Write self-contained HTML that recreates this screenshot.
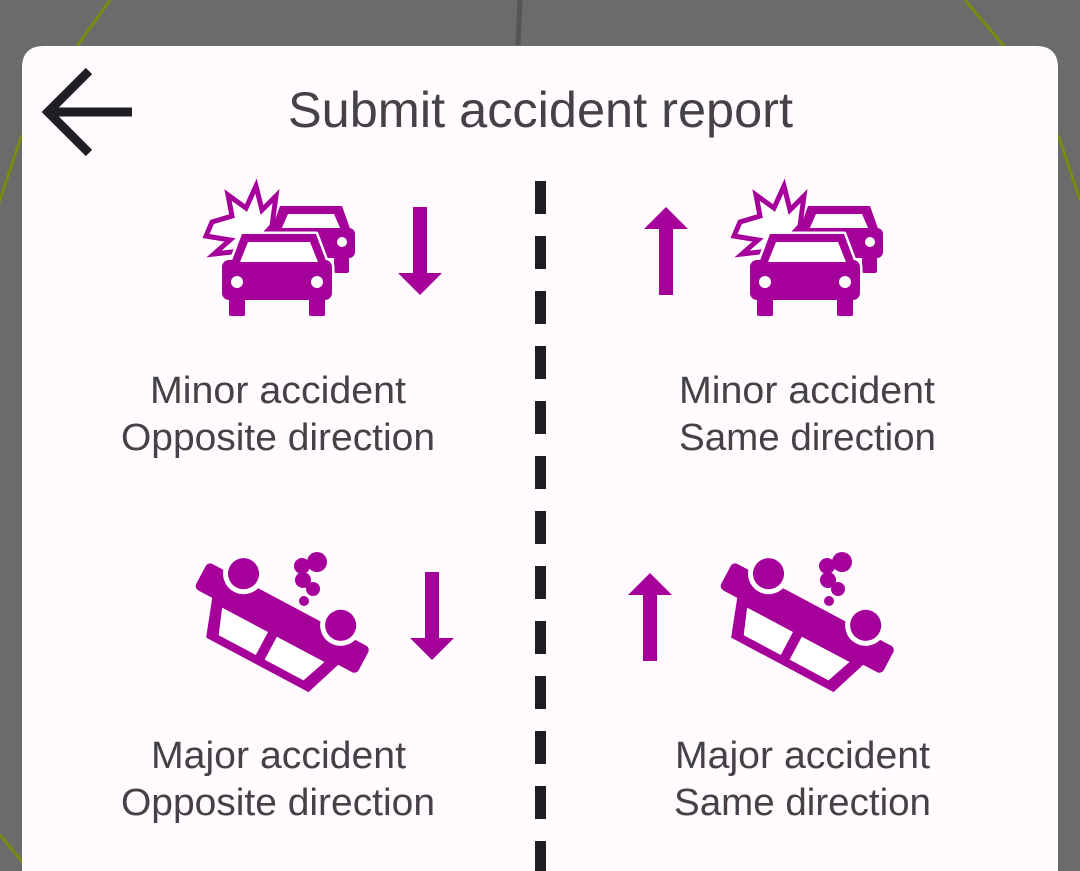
<!DOCTYPE html>
<html><head><meta charset="utf-8"><style>
html,body{margin:0;padding:0;width:1080px;height:871px;overflow:hidden;background:#6b6b6b;}
svg{display:block}
text{font-family:"Liberation Sans",sans-serif;fill:#444246;}
</style></head><body>
<svg width="1080" height="871" viewBox="0 0 1080 871" xmlns="http://www.w3.org/2000/svg">
<defs>
<g id="minor">
  <polygon points="212,222 232,216 228,195 246,208 256,186 262,210 276,196 272,226 250,250 214,254 230,240 206,236" fill="#fff" stroke="#a6009b" stroke-width="5" stroke-linejoin="miter"/>
  <polygon points="270,234 280,206 342,206 352,234" fill="#a6009b"/>
  <polygon points="281,230 288,214 334,214 341,230" fill="#fff"/>
  <rect x="264" y="228" width="91" height="30" rx="6" fill="#a6009b"/>
  <circle cx="342" cy="242" r="5" fill="#fff"/>
  <rect x="334" y="254" width="15" height="19" rx="2" fill="#a6009b"/>
  <g stroke="#fff" stroke-width="5" stroke-linejoin="round">
    <polygon points="230,266 242,234 316,234 328,266" fill="#a6009b"/>
    <rect x="222" y="260" width="110" height="40" rx="7" fill="#a6009b"/>
  </g>
  <polygon points="230,266 242,234 316,234 328,266" fill="#a6009b"/>
  <rect x="222" y="260" width="110" height="40" rx="7" fill="#a6009b"/>
  <polygon points="240,262 248,242 310,242 318,262" fill="#fff"/>
  <circle cx="237" cy="282" r="6" fill="#fff"/>
  <circle cx="317" cy="282" r="6" fill="#fff"/>
  <rect x="229" y="296" width="16" height="20" rx="2" fill="#a6009b"/>
  <rect x="309" y="296" width="16" height="20" rx="2" fill="#a6009b"/>
</g>
<g id="major">
  <g transform="translate(278,626) rotate(28)">
    <rect x="-92" y="-24" width="184" height="30" rx="5" fill="#a6009b"/>
    <polygon points="-72,4 -58,44 58,44 72,4" fill="#a6009b"/>
    <polygon points="-58,10 -48,36 -6,36 -6,10" fill="#fff"/>
    <polygon points="4,10 4,36 48,36 58,10" fill="#fff"/>
    <circle cx="-55" cy="-30" r="18" fill="#a6009b" stroke="#fff" stroke-width="5"/>
    <circle cx="55" cy="-30" r="18" fill="#a6009b" stroke="#fff" stroke-width="5"/>
  </g>
  <circle cx="317" cy="562" r="10" fill="#a6009b"/>
  <circle cx="302" cy="566" r="8" fill="#a6009b"/>
  <circle cx="303" cy="580" r="8" fill="#a6009b"/>
  <circle cx="313" cy="589" r="7" fill="#a6009b"/>
  <circle cx="304" cy="601" r="5" fill="#a6009b"/>
</g>
<g id="down"><rect x="-7" y="0" width="14" height="68" fill="#a6009b"/><polygon points="-22,66 22,66 0,88" fill="#a6009b"/></g>
<g id="up"><rect x="-7" y="20" width="14" height="68" fill="#a6009b"/><polygon points="-22,22 22,22 0,0" fill="#a6009b"/></g>
</defs>
<path d="M110,0 L60,70 L20,140 L-10,230" stroke="#7a8a10" stroke-width="3" fill="none"/>
<path d="M965,0 L1020,65 L1060,140 L1080,200" stroke="#7a8a10" stroke-width="3" fill="none"/>
<path d="M0,835 L30,871" stroke="#7a8a10" stroke-width="3" fill="none"/>
<path d="M520,0 L518,45" stroke="#555" stroke-width="5" fill="none"/>
<path d="M22,871 L22,68 Q22,46 44,46 L1036,46 Q1058,46 1058,68 L1058,871 Z" fill="#fffbfe"/>
<path d="M89,71 L48,112 L89,153 M48,112 L132,112" stroke="#1f1e22" stroke-width="9" fill="none"/>
<text x="288" y="127" font-size="50" textLength="505" lengthAdjust="spacingAndGlyphs">Submit accident report</text>
<line x1="540.5" y1="181" x2="540.5" y2="871" stroke="#1f1e22" stroke-width="11" stroke-dasharray="33 22"/>
<use href="#minor"/>
<use href="#minor" transform="translate(528,0)"/>
<use href="#down" transform="translate(420,207)"/>
<use href="#up" transform="translate(666,207)"/>
<use href="#major"/>
<use href="#major" transform="translate(525,0)"/>
<use href="#down" transform="translate(432,572)"/>
<use href="#up" transform="translate(650,573)"/>
<g font-size="38">
<text x="150" y="403" textLength="256" lengthAdjust="spacingAndGlyphs">Minor accident</text>
<text x="121" y="450" textLength="314" lengthAdjust="spacingAndGlyphs">Opposite direction</text>
<text x="679" y="403" textLength="256" lengthAdjust="spacingAndGlyphs">Minor accident</text>
<text x="679" y="450" textLength="257" lengthAdjust="spacingAndGlyphs">Same direction</text>
<text x="151" y="768" textLength="255" lengthAdjust="spacingAndGlyphs">Major accident</text>
<text x="121" y="815" textLength="314" lengthAdjust="spacingAndGlyphs">Opposite direction</text>
<text x="675" y="768" textLength="255" lengthAdjust="spacingAndGlyphs">Major accident</text>
<text x="674" y="815" textLength="257" lengthAdjust="spacingAndGlyphs">Same direction</text>
</g>
</svg>
</body></html>
